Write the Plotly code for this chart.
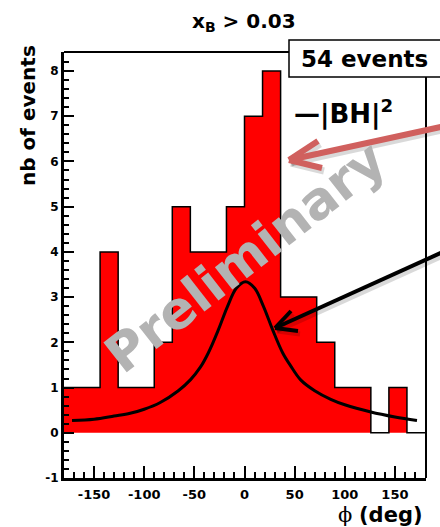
import plotly.graph_objects as go

# ---------------- data ----------------
bin_edges = [-180, -162, -144, -126, -108, -90, -72, -54, -36, -18, 0,
             18, 36, 54, 72, 90, 108, 126, 144, 162, 180]
counts = [1, 1, 4, 1, 1, 2, 5, 4, 4, 5, 7, 8, 3, 3, 2, 1, 1, 0, 1, 0]

bh_phi = [-172, -150, -130, -114, -100, -84, -66, -54, -44, -36, -26, -17, -8,
          1, 10, 19, 28, 38, 46, 56, 70, 86, 100, 126, 150, 172]
bh_val = [0.27, 0.30, 0.37, 0.43, 0.52, 0.67, 0.93, 1.17, 1.45, 1.77, 2.28, 2.79, 3.2,
          3.34, 3.2, 2.79, 2.28, 1.77, 1.48, 1.17, 0.93, 0.74, 0.62, 0.46, 0.35, 0.27]

x_tickvals = [-150, -100, -50, 0, 50, 100, 150]
x_ticktext = ["-150", "-100", "-50", "0", "50", "100", "150"]
y_tickvals = [-1, 0, 1, 2, 3, 4, 5, 6, 7, 8]
y_ticktext = ["-1", "0", "1", "2", "3", "4", "5", "6", "7", "8"]

n_events_label = "54 events"
title_text = "x<sub>B</sub> &gt; 0.03"
legend_text = "—|BH|<sup>2</sup>"
watermark = "Preliminary"

# ---------------- layout geometry (pixels) ----------------
W, H = 440, 527
L, R, T, B = 64, 14, 52, 49
PW, PH = W - L - R, H - T - B


def px(x):
    return (x - L) / PW


def py(y):
    return (H - B - y) / PH


FONT = "DejaVu Sans"

fig = go.Figure()

# histogram (step outline with fill)
fig.add_trace(go.Scatter(
    x=bin_edges, y=counts + [counts[-1]],
    mode="lines", line=dict(shape="hv", color="black", width=1.5),
    fill="tozeroy", fillcolor="#ff0000", hoverinfo="skip", showlegend=False))

# BH curve
fig.add_trace(go.Scatter(
    x=bh_phi, y=bh_val, mode="lines",
    line=dict(shape="spline", color="black", width=3), showlegend=False))

axis_common = dict(
    showgrid=False, zeroline=False, showline=True, linecolor="black",
    linewidth=3, ticks="inside", tickcolor="black", tickwidth=2,
    mirror=False,
)

fig.update_xaxes(
    range=[-180, 181], tickvals=x_tickvals, ticktext=x_ticktext,
    ticklen=12, tickfont=dict(family=FONT, size=13, color="black", weight="bold"),
    minor=dict(dtick=10, tick0=0, ticks="inside", ticklen=6, tickwidth=2, tickcolor="black"),
    ticklabelstandoff=2,
    **axis_common)
fig.update_yaxes(
    range=[-1, 8.42], tickvals=y_tickvals, ticktext=y_ticktext,
    ticklen=10, tickfont=dict(family=FONT, size=12, color="black", weight="bold"),
    minor=dict(dtick=0.2, tick0=0, ticks="inside", ticklen=5, tickwidth=2, tickcolor="black"),
    **axis_common)

shapes = []
# top and right frame lines
shapes.append(dict(type="line", xref="paper", yref="paper", x0=0, x1=1, y0=1, y1=1,
                   line=dict(color="black", width=2)))
shapes.append(dict(type="line", xref="paper", yref="paper", x0=1, x1=1, y0=0, y1=1,
                   line=dict(color="black", width=2)))
# events box
shapes.append(dict(type="rect", xref="paper", yref="paper",
                   x0=px(289), x1=px(452), y0=py(77), y1=py(40),
                   fillcolor="white", line=dict(color="black", width=1.5)))


def arrow(tip, tail, arm1, arm2, color, width):
    out = []
    # shadow
    for (a, b) in [(tail, tip), (arm1, tip), (arm2, tip)]:
        out.append(dict(type="line", xref="paper", yref="paper",
                        x0=px(a[0] + 2), y0=py(a[1] + 3), x1=px(b[0] + 2), y1=py(b[1] + 3),
                        line=dict(color="rgba(0,0,0,0.15)", width=width + 1)))
    for (a, b) in [(tail, tip), (arm1, tip), (arm2, tip)]:
        out.append(dict(type="line", xref="paper", yref="paper",
                        x0=px(a[0]), y0=py(a[1]), x1=px(b[0]), y1=py(b[1]),
                        line=dict(color=color, width=width)))
    return out


shapes += arrow((289, 160), (445, 126), (318, 141), (322, 168), "#d0605e", 6)
shapes += arrow((275, 328), (445, 251), (291, 311), (298, 331), "black", 4)

fig.update_layout(shapes=shapes)

annotations = [
    dict(text="<b>" + title_text + "</b>", x=px(244), y=py(22), xref="paper", yref="paper",
         xanchor="center", yanchor="middle", showarrow=False,
         font=dict(family=FONT, size=20, color="black")),
    dict(text="<b>nb of events</b>", x=px(28), y=py(116), xref="paper", yref="paper",
         xanchor="center", yanchor="middle", showarrow=False, textangle=-90,
         font=dict(family=FONT, size=20, color="black")),
    dict(text='<span style="font-family:DejaVu Serif">ϕ</span> <b>(deg)</b>',
         x=px(425), y=py(515), xref="paper", yref="paper",
         xanchor="right", yanchor="middle", showarrow=False,
         font=dict(family=FONT, size=21, color="black")),
    dict(text="<b>" + n_events_label + "</b>", x=px(299), y=py(59), xref="paper", yref="paper",
         xanchor="left", yanchor="middle", showarrow=False,
         font=dict(family=FONT, size=23, color="black")),
    dict(text="<b>" + legend_text + "</b>", x=px(292), y=py(113), xref="paper", yref="paper",
         xanchor="left", yanchor="middle", showarrow=False,
         font=dict(family=FONT, size=26, color="black")),
    dict(text="<b>" + watermark + "</b>", x=px(245), y=py(257), xref="paper", yref="paper",
         xanchor="center", yanchor="middle", showarrow=False, textangle=-38,
         font=dict(family=FONT, size=52, color="#b3b3b3")),
]

fig.update_layout(
    width=W, height=H,
    margin=dict(l=L, r=R, t=T, b=B, pad=0),
    paper_bgcolor="white", plot_bgcolor="white",
    showlegend=False,
    annotations=annotations,
)

fig.write_html("out.html")
